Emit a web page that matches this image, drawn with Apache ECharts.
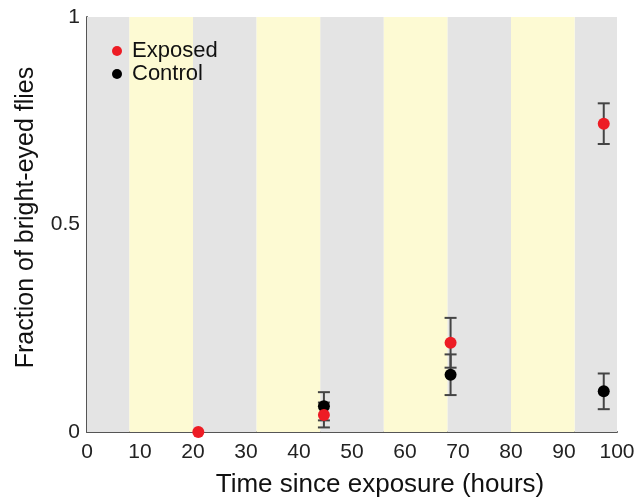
<!DOCTYPE html>
<html style="height: 100%">
<head>
 <meta charset="utf-8">
 <title>Bright-eyed flies</title>
 <script src="https://cdn.jsdelivr.net/npm/echarts/dist/echarts.min.js"></script>
</head>
<body style="height: 100%; margin: 0; background: #fff">
 <div id="main" style="width: 641px; height: 503px"></div>
 <script type="text/javascript">
 // light / dark periods (hours), drawn as background bands
 var greyBands = [[0, 8], [20, 32], [44, 56], [68, 80], [92, 100]];
 var yellowBands = [[8, 20], [32, 44], [56, 68], [80, 92]];

 // measurements: [hours, fraction]
 var exposedX = [21, 44.7, 68.6, 97.5];
 var exposedY = [0, 0.041, 0.215, 0.743];
 var exposedErr = [0, 0.03, 0.06, 0.049];

 var controlX = [44.7, 68.6, 97.5];
 var controlY = [0.062, 0.138, 0.098];
 var controlErr = [0.034, 0.049, 0.043];

 var myChart = echarts.init(document.getElementById('main'));

 function points(xs, ys) {
 return xs.map(function (x, i) { return [x, ys[i]]; });
 }
 function bars(xs, ys, es) {
 var out = [];
 xs.forEach(function (x, i) {
 if (es[i] > 0) out.push([x, ys[i] - es[i], ys[i] + es[i]]);
 });
 return out;
 }
 function bandAreas(list, color) {
 return list.map(function (b) {
 return [{ xAxis: b[0], itemStyle: { color: color } }, { xAxis: b[1] }];
 });
 }

 function renderErr(params, api) {
 var lo = api.coord([api.value(0), api.value(1)]);
 var hi = api.coord([api.value(0), api.value(2)]);
 var w = 6;
 var st = { stroke: '#444', lineWidth: 2 };
 return {
 type: 'group',
 children: [
 { type: 'line', shape: { x1: lo[0], y1: lo[1], x2: hi[0], y2: hi[1] }, style: st },
 { type: 'line', shape: { x1: lo[0] - w, y1: lo[1], x2: lo[0] + w, y2: lo[1] }, style: st },
 { type: 'line', shape: { x1: hi[0] - w, y1: hi[1], x2: hi[0] + w, y2: hi[1] }, style: st }
 ]
 };
 }

 var option = {
 animation: false,
 textStyle: { fontFamily: 'Liberation Sans, Arial, sans-serif' },
 grid: { left: 87, right: 24, top: 17, bottom: 70 },
 legend: {
 left: 107,
 top: 35,
 orient: 'vertical',
 itemWidth: 10,
 itemHeight: 10,
 itemGap: 1,
 data: [
 { name: 'Exposed', icon: 'circle' },
 { name: 'Control', icon: 'circle' }
 ],
 textStyle: { fontSize: 22, color: '#111', padding: [0, 0, 0, 5] }
 },
 xAxis: {
 type: 'value',
 min: 0,
 max: 100,
 interval: 10,
 name: 'Time since exposure (hours)',
 nameLocation: 'middle',
 nameGap: 40,
 nameTextStyle: { fontSize: 26, color: '#111', padding: [0, 0, 0, 56] },
 axisLine: { lineStyle: { color: '#555', width: 2 } },
 axisTick: { show: false },
 splitLine: { show: false },
 axisLabel: { fontSize: 21, color: '#222', margin: 10 }
 },
 yAxis: {
 type: 'value',
 min: 0,
 max: 1,
 interval: 0.5,
 name: 'Fraction of bright-eyed flies',
 nameLocation: 'middle',
 nameGap: 48,
 nameTextStyle: { fontSize: 25, color: '#111', padding: [0, 0, 0, 14] },
 axisLine: { show: true, lineStyle: { color: '#555', width: 2 } },
 axisTick: { show: false },
 splitLine: { show: false },
 axisLabel: { fontSize: 21, color: '#222', margin: 7 }
 },
 series: [
 {
 type: 'line',
 data: [],
 silent: true,
 markArea: {
 silent: true,
 data: bandAreas(greyBands, '#e4e4e4').concat(bandAreas(yellowBands, '#fdfad3'))
 }
 },
 {
 type: 'custom',
 renderItem: renderErr,
 data: bars(controlX, controlY, controlErr).concat(bars(exposedX, exposedY, exposedErr)),
 z: 3,
 silent: true
 },
 {
 name: 'Control',
 type: 'scatter',
 symbolSize: 12,
 itemStyle: { color: '#000', opacity: 1 },
 data: points(controlX, controlY),
 z: 4
 },
 {
 name: 'Exposed',
 type: 'scatter',
 symbolSize: 12,
 itemStyle: { color: '#ed1c24', opacity: 1 },
 data: points(exposedX, exposedY),
 z: 5
 }
 ]
 };

 myChart.setOption(option);
 </script>
</body>
</html>
